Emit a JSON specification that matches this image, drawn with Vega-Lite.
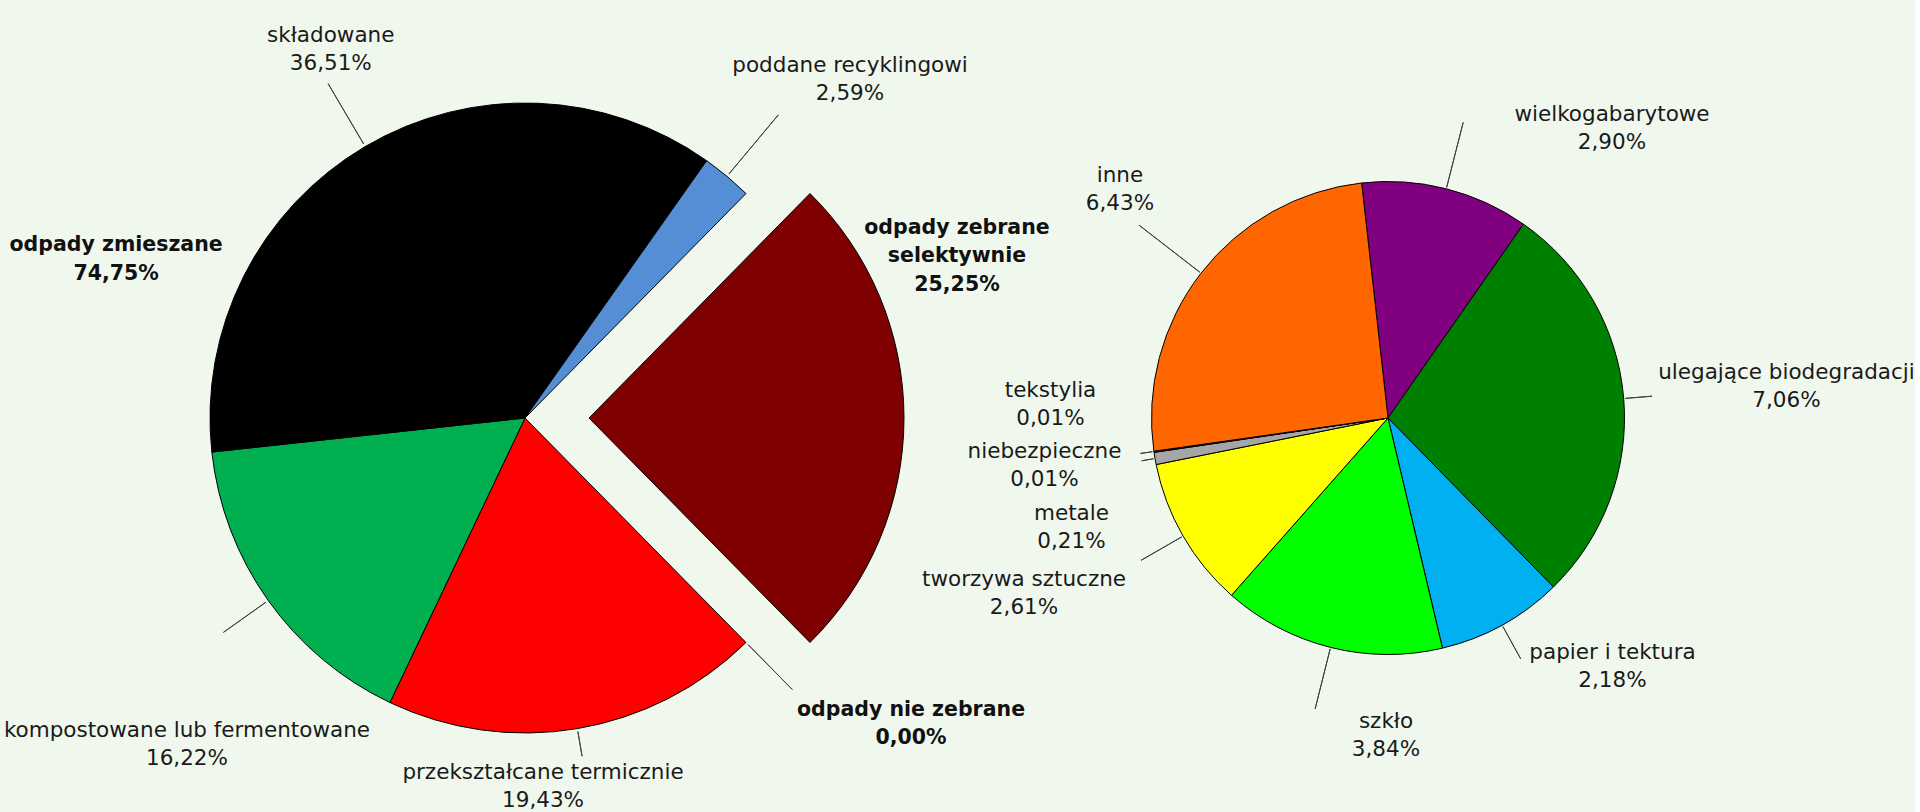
{
  "$schema": "https://vega.github.io/schema/vega-lite/v6.json",
  "background": "#F0F8EE",
  "padding": {"left": 0, "top": 24, "right": 0, "bottom": 0},
  "bounds": "flush",
  "spacing": 0,
  "config": {"view": {"stroke": null}},
  "resolve": {"scale": {"color": "independent", "theta": "independent"}},
  "datasets": {
    "odpady": [
      {"lp": 1, "grupa": "odpady zebrane selektywnie", "rodzaj": "odpady zebrane selektywnie", "udzial": 25.25, "etykieta": ""},
      {"lp": 2, "grupa": "odpady nie zebrane", "rodzaj": "odpady nie zebrane", "udzial": 0.0, "etykieta": ""},
      {"lp": 3, "grupa": "odpady zmieszane", "rodzaj": "przekształcane termicznie", "udzial": 19.43, "etykieta": "przekształcane termicznie\n19,43%"},
      {"lp": 4, "grupa": "odpady zmieszane", "rodzaj": "kompostowane lub fermentowane", "udzial": 16.22, "etykieta": "kompostowane lub fermentowane\n16,22%"},
      {"lp": 5, "grupa": "odpady zmieszane", "rodzaj": "składowane", "udzial": 36.51, "etykieta": "składowane\n36,51%"},
      {"lp": 6, "grupa": "odpady zmieszane", "rodzaj": "poddane recyklingowi", "udzial": 2.59, "etykieta": "poddane recyklingowi\n2,59%"}
    ],
    "grupy": [
      {"lp": 1, "grupa": "odpady zebrane selektywnie", "udzial": 25.25, "etykieta": "odpady zebrane\nselektywnie\n25,25%"},
      {"lp": 2, "grupa": "odpady nie zebrane", "udzial": 0.0, "etykieta": "odpady nie zebrane\n0,00%"},
      {"lp": 3, "grupa": "odpady zmieszane", "udzial": 74.75, "etykieta": "odpady zmieszane\n74,75%"}
    ],
    "selektywne": [
      {"lp": 1, "rodzaj": "wielkogabarytowe", "udzial": 2.90, "etykieta": "wielkogabarytowe\n2,90%"},
      {"lp": 2, "rodzaj": "ulegające biodegradacji", "udzial": 7.06, "etykieta": "ulegające biodegradacji\n7,06%"},
      {"lp": 3, "rodzaj": "papier i tektura", "udzial": 2.18, "etykieta": "papier i tektura\n2,18%"},
      {"lp": 4, "rodzaj": "szkło", "udzial": 3.84, "etykieta": "szkło\n3,84%"},
      {"lp": 5, "rodzaj": "tworzywa sztuczne", "udzial": 2.61, "etykieta": "tworzywa sztuczne\n2,61%"},
      {"lp": 6, "rodzaj": "metale", "udzial": 0.21, "etykieta": "metale\n0,21%"},
      {"lp": 7, "rodzaj": "niebezpieczne", "udzial": 0.01, "etykieta": "niebezpieczne\n0,01%"},
      {"lp": 8, "rodzaj": "tekstylia", "udzial": 0.01, "etykieta": "tekstylia\n0,01%"},
      {"lp": 9, "rodzaj": "inne", "udzial": 6.43, "etykieta": "inne\n6,43%"}
    ]
  },
  "hconcat": [
    {
      "width": 1050,
      "height": 788,
      "layer": [
        {
          "data": {"name": "odpady"},
          "mark": {"type": "arc", "radius": 315, "stroke": "#000000", "strokeWidth": 1},
          "encoding": {
            "theta": {"field": "udzial", "type": "quantitative", "stack": true, "scale": {"domain": [0, 100], "range": [0.77754, 7.06073], "nice": false}},
            "order": {"field": "lp", "type": "quantitative"},
            "color": {"field": "rodzaj", "type": "nominal", "legend": null, "scale": {"domain": ["odpady zebrane selektywnie", "odpady nie zebrane", "przekształcane termicznie", "kompostowane lub fermentowane", "składowane", "poddane recyklingowi"], "range": ["#7F0000", "#7F0000", "#FF0000", "#00B050", "#000000", "#558ED5"]}},
            "opacity": {"condition": {"test": "datum.lp <= 2", "value": 0}, "value": 1}
          }
        },
        {
          "data": {"name": "odpady"},
          "mark": {"type": "arc", "radius": 315, "stroke": "#000000", "strokeWidth": 1, "xOffset": 64},
          "encoding": {
            "theta": {"field": "udzial", "type": "quantitative", "stack": true, "scale": {"domain": [0, 100], "range": [0.77754, 7.06073], "nice": false}},
            "order": {"field": "lp", "type": "quantitative"},
            "color": {"field": "rodzaj", "type": "nominal", "legend": null},
            "opacity": {"condition": {"test": "datum.lp == 1", "value": 1}, "value": 0}
          }
        },
        {
          "data": {"name": "odpady"},
          "mark": {"type": "arc", "radius": {"expr": "datum.lp == 2 ? 381 : datum.lp == 3 ? 343 : datum.lp == 4 ? 370 : datum.lp == 5 ? 388 : 395"}, "radius2": 318, "padAngle": 3, "fillOpacity": 0, "stroke": "#404040", "strokeWidth": 1},
          "encoding": {
            "theta": {"field": "udzial", "type": "quantitative", "stack": true, "scale": {"domain": [0, 100], "range": [0.77754, 7.06073], "nice": false}},
            "order": {"field": "lp", "type": "quantitative"},
            "opacity": {"condition": {"test": "datum.lp == 1", "value": 0}, "value": 1}
          }
        },
        {
          "data": {"name": "odpady"},
          "mark": {"type": "text", "font": "DejaVu Sans", "fontSize": 21.5, "lineHeight": 28, "lineBreak": "\n", "align": "center", "baseline": "middle", "color": "#1a1a1a", "dy": -14,
            "radius": {"expr": "datum.lp == 3 ? 369.4 : datum.lp == 4 ? 470.3 : datum.lp == 5 ? 416.5 : 468.9"},
            "thetaOffset": {"expr": "datum.lp == 3 ? 0.1183 : datum.lp == 4 ? -0.1508 : datum.lp == 5 ? 0.0470 : 0.0697"}},
          "encoding": {
            "theta": {"field": "udzial", "type": "quantitative", "stack": true, "scale": {"domain": [0, 100], "range": [0.77754, 7.06073], "nice": false}},
            "order": {"field": "lp", "type": "quantitative"},
            "text": {"field": "etykieta"}
          }
        },
        {
          "data": {"name": "grupy"},
          "mark": {"type": "text", "font": "DejaVu Sans", "fontWeight": "bold", "fontSize": 20.5, "lineHeight": 28.5, "lineBreak": "\n", "align": "center", "baseline": "middle", "color": "#111111",
            "dy": {"expr": "datum.lp == 1 ? -28.5 : -14.25"},
            "radius": {"expr": "datum.lp == 1 ? 461.2 : datum.lp == 2 ? 492.6 : 438.6"},
            "thetaOffset": {"expr": "datum.lp == 1 ? -0.3578 : datum.lp == 2 ? -0.1230 : 0.370"}},
          "encoding": {
            "theta": {"field": "udzial", "type": "quantitative", "stack": true, "scale": {"domain": [0, 100], "range": [0.77754, 7.06073], "nice": false}},
            "order": {"field": "lp", "type": "quantitative"},
            "text": {"field": "etykieta"}
          }
        }
      ]
    },
    {
      "width": 676,
      "height": 788,
      "layer": [
        {
          "data": {"name": "selektywne"},
          "mark": {"type": "arc", "radius": 236.5, "stroke": "#000000", "strokeWidth": 1},
          "encoding": {
            "theta": {"field": "udzial", "type": "quantitative", "stack": true, "scale": {"domain": [0, 25.25], "range": [-0.111701, 6.171484], "nice": false}},
            "order": {"field": "lp", "type": "quantitative"},
            "color": {"field": "rodzaj", "type": "nominal", "legend": null, "scale": {"domain": ["wielkogabarytowe", "ulegające biodegradacji", "papier i tektura", "szkło", "tworzywa sztuczne", "metale", "niebezpieczne", "tekstylia", "inne"], "range": ["#800080", "#008000", "#00B0F0", "#00FF00", "#FFFF00", "#A6A6A6", "#C00000", "#7030A0", "#FF6600"]}}
          }
        },
        {
          "data": {"name": "selektywne"},
          "mark": {"type": "arc", "radius": {"expr": "datum.lp == 1 ? 305 : datum.lp == 2 ? 265 : datum.lp == 3 ? 275 : datum.lp == 4 ? 300 : datum.lp == 5 ? 285 : datum.lp == 6 ? 250 : datum.lp == 8 ? 250 : 315"}, "radius2": 238, "padAngle": 3, "fillOpacity": 0, "stroke": "#404040", "strokeWidth": 1},
          "encoding": {
            "theta": {"field": "udzial", "type": "quantitative", "stack": true, "scale": {"domain": [0, 25.25], "range": [-0.111701, 6.171484], "nice": false}},
            "order": {"field": "lp", "type": "quantitative"},
            "opacity": {"condition": {"test": "datum.lp == 7", "value": 0}, "value": 1}
          }
        },
        {
          "data": {"name": "selektywne"},
          "mark": {"type": "text", "font": "DejaVu Sans", "fontSize": 21.5, "lineHeight": 28, "lineBreak": "\n", "align": "center", "baseline": "middle", "color": "#1a1a1a", "dy": -14,
            "radius": {"expr": "datum.lp == 1 ? 365.6 : datum.lp == 2 ? 399.7 : datum.lp == 3 ? 334.9 : datum.lp == 4 ? 318.5 : datum.lp == 5 ? 404.2 : datum.lp == 6 ? 335.1 : datum.lp == 7 ? 346.8 : datum.lp == 8 ? 337.75 : 352.2"},
            "thetaOffset": {"expr": "datum.lp == 1 ? 0.4103 : datum.lp == 2 ? 0.0037 : datum.lp == 3 ? -0.2311 : datum.lp == 4 ? -0.2391 : datum.lp == 5 ? 0.0730 : datum.lp == 6 ? -0.1623 : datum.lp == 7 ? 0.0065 : datum.lp == 8 ? 0.1808 : 0.0469"}},
          "encoding": {
            "theta": {"field": "udzial", "type": "quantitative", "stack": true, "scale": {"domain": [0, 25.25], "range": [-0.111701, 6.171484], "nice": false}},
            "order": {"field": "lp", "type": "quantitative"},
            "text": {"field": "etykieta"}
          }
        }
      ]
    }
  ]
}
